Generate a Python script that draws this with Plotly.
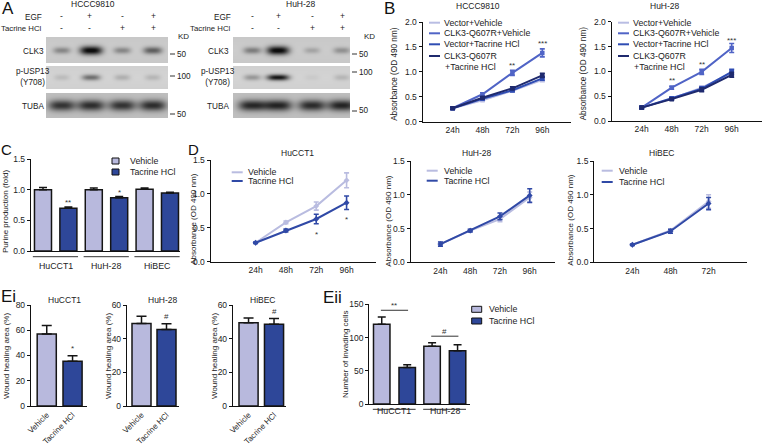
import numpy as np
import plotly.graph_objects as go

W, H = 763, 447
FONT = "Liberation Sans, Arial, sans-serif"
TXT = "#222222"

# ---------------- DATA ----------------
# Panel A: western blot band intensities (lanes: EGF -/+/-/+, Tacrine -/-/+/+)
egf_signs = ["-", "+", "-", "+"]
tacrine_signs = ["-", "-", "+", "+"]
blot_rows = ["CLK3", "p-USP13<br>(Y708)", "TUBA"]
hccc_clk3 = [0.35, 1.0, 0.35, 0.55]
hccc_pusp13 = [0.12, 0.50, 0.18, 0.15]
hccc_tuba = [0.72, 0.75, 0.72, 0.75]
huh_clk3 = [0.40, 1.0, 0.20, 0.30]
huh_pusp13 = [0.30, 0.95, 0.05, 0.15]
huh_tuba = [0.78, 0.80, 0.76, 0.80]

# Panel B
timepoints = ["24h", "48h", "72h", "96h"]
b_labels = ["Vector+Vehicle", "CLK3-Q607R+Vehicle", "Vector+Tacrine HCl", "CLK3-Q607R<br>+Tacrine HCl"]
b_hccc_vec_veh = [0.27, 0.43, 0.62, 0.84]
b_hccc_clk_veh = [0.27, 0.55, 0.98, 1.38]
b_hccc_vec_tac = [0.27, 0.46, 0.63, 0.87]
b_hccc_clk_tac = [0.27, 0.48, 0.67, 0.93]
b_hccc_err_small = [0.02, 0.02, 0.03, 0.04]
b_hccc_err_clk_veh = [0.02, 0.03, 0.05, 0.08]
b_hccc_stars = ["", "", "**", "***"]
b_hccc_star_y = [0, 0, 1.13, 1.56]
b_huh_vec_veh = [0.27, 0.45, 0.67, 0.97]
b_huh_clk_veh = [0.27, 0.67, 0.99, 1.47]
b_huh_vec_tac = [0.27, 0.46, 0.65, 0.99]
b_huh_clk_tac = [0.27, 0.44, 0.63, 0.93]
b_huh_err_small = [0.02, 0.02, 0.04, 0.05]
b_huh_err_clk_veh = [0.02, 0.03, 0.05, 0.09]
b_huh_stars = ["", "**", "**", "***"]
b_huh_star_y = [0, 0.81, 1.14, 1.62]

# Panel C
c_cells = ["HuCCT1", "HuH-28", "HiBEC"]
c_vehicle = [1.0, 1.0, 1.01]
c_vehicle_err = [0.04, 0.03, 0.02]
c_tacrine = [0.70, 0.87, 0.95]
c_tacrine_err = [0.02, 0.02, 0.01]
c_stars = ["**", "*", ""]

# Panel D
d_huc_veh = [0.28, 0.58, 0.82, 1.20]
d_huc_veh_err = [0.01, 0.02, 0.06, 0.11]
d_huc_tac = [0.28, 0.46, 0.63, 0.87]
d_huc_tac_err = [0.01, 0.02, 0.07, 0.10]
d_huc_stars = ["", "", "*", "*"]
d_huc_star_y = [0, 0, 0.40, 0.62]
d_huh_veh = [0.27, 0.47, 0.64, 0.96]
d_huh_veh_err = [0.03, 0.02, 0.04, 0.08]
d_huh_tac = [0.27, 0.47, 0.68, 0.99]
d_huh_tac_err = [0.03, 0.02, 0.05, 0.10]
d_hib_time = ["24h", "48h", "72h"]
d_hib_veh = [0.26, 0.47, 0.90]
d_hib_veh_err = [0.01, 0.02, 0.10]
d_hib_tac = [0.26, 0.46, 0.87]
d_hib_tac_err = [0.01, 0.03, 0.09]

# Panel Ei
ei_groups = ["Vehicle", "Tacrine HCl"]
ei_huc = [57, 35.5]
ei_huc_err = [6.8, 4.3]
ei_huh = [49, 45.5]
ei_huh_err = [4.3, 3.3]
ei_hib = [49.5, 48.5]
ei_hib_err = [2.8, 3.5]
ei_marks = ["*", "#", "#"]

# Panel Eii
eii_cells = ["HuCCT1", "HuH-28"]
eii_veh = [120, 87]
eii_veh_err = [11, 5]
eii_tac = [55, 80]
eii_tac_err = [4, 9]
eii_marks = ["**", "#"]

# ---------------- STYLE ----------------
C_VEH = "#b8b9dd"
C_TAC = "#2e4799"
B_COLORS = ["#b9bde3", "#5064c6", "#2f4db3", "#1f2a6e"]
D_VEH = "#b9bce0"
D_TAC = "#3049a6"

fig = go.Figure()
annotations = []
shapes = []
layout_axes = {}


def fx(px):
    return px / W


def fy(py):
    return 1 - py / H


def txt(x, y, s, size=8.5, xa="center", ya="middle", angle=0, color=TXT, xref="paper", yref="paper"):
    if xref == "paper":
        x = fx(x)
    if yref == "paper":
        y = fy(y)
    annotations.append(dict(x=x, y=y, xref=xref, yref=yref, text=s, showarrow=False,
                            xanchor=xa, yanchor=ya, textangle=angle, borderpad=0,
                            font=dict(size=size, color=color, family=FONT)))


def line_px(x0, y0, x1, y1, color="#222", width=1.0):
    shapes.append(dict(type="line", xref="paper", yref="paper", x0=fx(x0), x1=fx(x1),
                       y0=fy(y0), y1=fy(y1), line=dict(color=color, width=width)))


def rect_px(x0, y0, x1, y1, fill, line="#111", width=1.0):
    shapes.append(dict(type="rect", xref="paper", yref="paper", x0=fx(x0), x1=fx(x1),
                       y0=fy(y1), y1=fy(y0), fillcolor=fill, line=dict(color=line, width=width)))


def add_axes(i, xd, yd, xr, yr, visible=True, ydtick=None, yfmt=None,
             xtickvals=None, xticktext=None, xangle=0, xfont=8.5):
    suf = "" if i == 1 else str(i)
    tf = dict(size=8.5, color=TXT, family=FONT)
    xa = dict(domain=[fx(xd[0]), fx(xd[1])], range=xr, anchor="y" + suf, fixedrange=True,
              automargin=False,
              showgrid=False, zeroline=False, visible=visible, showline=True,
              linecolor="#111", linewidth=1.4, ticks="",
              tickfont=dict(size=xfont, color=TXT, family=FONT))
    if xtickvals is not None:
        xa.update(tickmode="array", tickvals=xtickvals, ticktext=xticktext, tickangle=xangle)
    else:
        xa.update(showticklabels=False)
    ya = dict(domain=[fy(yd[1]), fy(yd[0])], range=yr, anchor="x" + suf, fixedrange=True,
              automargin=False,
              showgrid=False, zeroline=False, visible=visible, showline=True,
              linecolor="#111", linewidth=1.4, ticks="outside", ticklen=3, tickwidth=1.2,
              tickcolor="#111", tickfont=tf)
    if ydtick is not None:
        ya.update(dtick=ydtick, tick0=0)
    if yfmt:
        ya.update(tickformat=yfmt)
    layout_axes["xaxis" + suf] = xa
    layout_axes["yaxis" + suf] = ya
    return "x" + suf, "y" + suf


# ---------------- PANEL A (blots) ----------------
def render_blot(intensities_rows, width, lane_frac):
    h = 81
    img = np.full((h, width), np.nan)
    row_spans = [(0, 26), (29, 52), (56, 81)]
    bgs = [0.80, 0.83, 0.76]
    sxs = [9.0, 9.0, 12.0]
    sys_ = [3.2, 3.0, 5.5]
    xs = np.arange(width) + 0.5
    for (r0, r1), bg, inten, sx, sy in zip(row_spans, bgs, intensities_rows, sxs, sys_):
        ys = np.arange(r0, r1) + 0.5
        cy = (r0 + r1) / 2 + (0.5 if r0 == 0 else 0)
        X, Y = np.meshgrid(xs, ys)
        val = np.full(X.shape, bg) - 0.03 * np.abs(Y - cy) / (r1 - r0)
        for f, a in zip(lane_frac, inten):
            cx = f * width
            wx = sx * (0.8 + 0.45 * a)
            wy = sy * (0.85 + 0.5 * a) if r0 == 0 else sy
            prof = np.exp(-(np.abs(X - cx) / wx) ** 3) * np.exp(-((Y - cy) / wy) ** 2)
            val = val - 0.78 * a * prof
        img[r0:r1, :] = np.clip(val, 0.05, 1)
    return img


blots = [
    (1, 46, 168, [hccc_clk3, hccc_pusp13, hccc_tuba], [0.13, 0.37, 0.625, 0.875]),
    (2, 233, 350, [huh_clk3, huh_pusp13, huh_tuba], [0.165, 0.385, 0.675, 0.93]),
]
for i, x0, x1, rows, lanes in blots:
    xr_, yr_ = add_axes(i, (x0, x1), (37, 118), [x0, x1], [118, 37], visible=False)
    img = render_blot(rows, x1 - x0, lanes)
    fig.add_trace(go.Heatmap(z=img, x=np.arange(x1 - x0) + x0 + 0.5, y=np.arange(81) + 37.5,
                             colorscale=[[0, "#000000"], [1, "#ffffff"]], zmin=0, zmax=1,
                             showscale=False, hoverinfo="skip", xaxis=xr_, yaxis=yr_))

txt(1, 9, "A", size=17, xa="left", color="#111")
txt(93, 4, "HCCC9810", size=8.5)
txt(301, 4, "HuH-28", size=8.5)
for (lx, lane_px, kx, lab_x) in [(43, [62, 89, 122, 153], 177, 33), (232, [252, 278, 312, 342], 363, 218)]:
    txt(lx, 17, "EGF", xa="right", size=8.2)
    txt(lx, 28, "Tacrine HCl", xa="right", size=7.8)
    for p, s1, s2 in zip(lane_px, egf_signs, tacrine_signs):
        txt(p, 16, s1, size=8.5)
        txt(p, 28, s2, size=8.5)
    txt(kx, 36, "KD", size=8.0, xa="left")
    txt(lab_x, 52, blot_rows[0], size=8.2)
    txt(lab_x, 77, blot_rows[1], size=8.2)
    txt(lab_x, 106, blot_rows[2], size=8.2)
for (mx, ys) in [(170, [54, 76, 114]), (352, [54, 72, 111])]:
    for yv, lab in zip(ys, ["50", "100", "50"]):
        line_px(mx, yv, mx + 5, yv, color="#333", width=1)
        txt(mx + 6, yv, lab, xa="left", size=8.2)

# ---------------- PANEL B ----------------
xt_time = list(range(1, len(timepoints) + 1))
txt(383, 9, "B", size=17, xa="left", color="#111")
b_sets = [
    (3, (422.7, 570.7), (22, 121.7), [0, 4.95], "HCCC9810", 478,
     [b_hccc_vec_veh, b_hccc_clk_veh, b_hccc_vec_tac, b_hccc_clk_tac],
     [b_hccc_err_small, b_hccc_err_clk_veh, b_hccc_err_small, b_hccc_err_small],
     b_hccc_stars, b_hccc_star_y, 395, 429),
    (4, (611.7, 761.7), (21.7, 121), [0, 5.0], "HuH-28", 665,
     [b_huh_vec_veh, b_huh_clk_veh, b_huh_vec_tac, b_huh_clk_tac],
     [b_huh_err_small, b_huh_err_clk_veh, b_huh_err_small, b_huh_err_small],
     b_huh_stars, b_huh_star_y, 583, 618),
]
for (i, xd, yd, xr, title, tx, series, errs, stars, star_y, ytx, lgx) in b_sets:
    xa_, ya_ = add_axes(i, xd, yd, xr, [0, 2.0], ydtick=0.5, yfmt=".1f",
                        xtickvals=xt_time, xticktext=timepoints)
    for vals, err, col in zip(series, errs, B_COLORS):
        fig.add_trace(go.Scatter(x=xt_time, y=vals, mode="lines+markers", xaxis=xa_, yaxis=ya_,
                                 line=dict(color=col, width=2),
                                 marker=dict(symbol="square", size=4.5, color=col),
                                 error_y=dict(type="data", array=err, color=col, thickness=1.6, width=2.5),
                                 hoverinfo="skip"))
    for xv, s, yv in zip(xt_time, stars, star_y):
        if s:
            txt(xv, yv, s, size=8, xref=xa_, yref=ya_, color="#333")
    txt(tx, 6, title)
    txt(ytx, (yd[0] + yd[1]) / 2 + 2, "Absorbance (OD 490 nm)", size=8.2, angle=-90)
    leg_y = [22.7, 33.3, 44.3, 61]
    for lab, col, ly in zip(b_labels, B_COLORS, leg_y):
        sy_ = ly if "<br>" not in lab else 56
        line_px(lgx, sy_, lgx + 11, sy_, color=col, width=2)
        txt(lgx + 14, ly, lab, xa="left", size=8.8)

# ---------------- PANEL C ----------------
txt(0, 150, "C", size=15, xa="left", color="#111")
xa_, ya_ = add_axes(5, (31, 180), (159.3, 251), [-0.486, 2.447], [0, 1.5], ydtick=0.5, yfmt=".1f")
c_x = np.arange(len(c_cells))
fig.add_trace(go.Bar(x=c_x - 0.25, y=c_vehicle, width=0.335, xaxis=xa_, yaxis=ya_,
                     marker=dict(color=C_VEH, line=dict(color="#151515", width=1.5)),
                     error_y=dict(type="data", array=c_vehicle_err, arrayminus=[0] * 3, symmetric=False,
                                  color="#151515", thickness=1.5, width=4), hoverinfo="skip"))
fig.add_trace(go.Bar(x=c_x + 0.25, y=c_tacrine, width=0.335, xaxis=xa_, yaxis=ya_,
                     marker=dict(color=C_TAC, line=dict(color="#151515", width=1.5)),
                     error_y=dict(type="data", array=c_tacrine_err, arrayminus=[0] * 3, symmetric=False,
                                  color="#151515", thickness=1.5, width=4), hoverinfo="skip"))
for k, name in enumerate(c_cells):
    shapes.append(dict(type="line", xref=xa_, yref="paper", x0=k - 0.45, x1=k + 0.44,
                       y0=fy(256.7), y1=fy(256.7), line=dict(color="#333", width=1)))
    annotations.append(dict(x=k, y=fy(266), xref=xa_, yref="paper", text=name, showarrow=False,
                            font=dict(size=8.8, color=TXT, family=FONT)))
    if c_stars[k]:
        txt(k + 0.25, c_tacrine[k] + c_tacrine_err[k] + 0.07, c_stars[k], size=8, xref=xa_, yref=ya_, color="#333")
txt(5, 212, "Purine production (fold)", size=8.0, angle=-90)
rect_px(112, 158, 119, 164, C_VEH)
rect_px(112, 169, 119, 175, C_TAC)
txt(129, 161, "Vehicle", xa="left", size=8.8)
txt(129, 172, "Tacrine HCl", xa="left", size=8.8)

# ---------------- PANEL D ----------------
txt(187, 150, "D", size=15, xa="left", color="#111")
d_sets = [
    (6, (210.7, 376), (160, 261.7), [-0.48, 4.97], timepoints, "HuCCT1", 297,
     d_huc_veh, d_huc_veh_err, d_huc_tac, d_huc_tac_err, 194, (231.7, 247, [172.3, 181])),
    (7, (410.7, 555), (161, 262.3), [0, 4.85], timepoints, "HuH-28", 477,
     d_huh_veh, d_huh_veh_err, d_huh_tac, d_huh_tac_err, 389, (426.7, 442.7, [170.7, 180.7])),
    (8, (594.3, 746.7), (161, 262.3), [0, 4.0], d_hib_time, "HiBEC", 662,
     d_hib_veh, d_hib_veh_err, d_hib_tac, d_hib_tac_err, 571, (601.7, 618.3, [170.7, 182])),
]
for (i, xd, yd, xr, tps, title, tx, v, ve, t, te, ytx, leg) in d_sets:
    xs = list(range(1, len(tps) + 1))
    xa_, ya_ = add_axes(i, xd, yd, xr, [0, 1.5], ydtick=0.5, yfmt=".1f",
                        xtickvals=xs, xticktext=tps)
    for vals, err, col in [(v, ve, D_VEH), (t, te, D_TAC)]:
        fig.add_trace(go.Scatter(x=xs, y=vals, mode="lines+markers", xaxis=xa_, yaxis=ya_,
                                 line=dict(color=col, width=2),
                                 marker=dict(symbol="diamond", size=4.5, color=col),
                                 error_y=dict(type="data", array=err, color=col, thickness=1.6, width=2.5),
                                 hoverinfo="skip"))
    txt(tx, 153, title)
    txt(ytx, (yd[0] + yd[1]) / 2 + 9, "Absorbance (OD 490 nm)", size=8.0, angle=-90)
    lx0, ltx, lys = leg
    for lab, col, ly in zip(["Vehicle", "Tacrine HCl"], [D_VEH, D_TAC], lys):
        line_px(lx0, ly, lx0 + 11, ly, color=col, width=2)
        txt(ltx, ly, lab, xa="left", size=8.8)
for xv, s, yv in zip(range(1, 5), d_huc_stars, d_huc_star_y):
    if s:
        txt(xv, yv, s, size=8, xref="x6", yref="y6", color="#333")

# ---------------- PANEL Ei ----------------
txt(0, 296, "Ei", size=17, xa="left", color="#111")
ei_sets = [
    (9, (31, 87), [-0.61, 1.56], [0, 80], ei_huc, ei_huc_err, "HuCCT1", 64, 6, 0.74),
    (10, (127, 179), [-0.58, 1.5], [0, 60], ei_huh, ei_huh_err, "HuH-28", 163, 108, 0.76),
    (11, (233, 286), [-0.61, 1.47], [0, 60], ei_hib, ei_hib_err, "HiBEC", 263, 214, 0.75),
]
for k, (i, xd, xr, yr, vals, errs, title, tx, ytx, bw) in enumerate(ei_sets):
    xs = list(range(len(ei_groups)))
    xa_, ya_ = add_axes(i, xd, (305, 406), xr, yr, ydtick=20,
                        xtickvals=xs, xticktext=ei_groups, xangle=-45, xfont=8.0)
    fig.add_trace(go.Bar(x=xs, y=vals, width=bw, xaxis=xa_, yaxis=ya_,
                         marker=dict(color=[C_VEH, C_TAC], line=dict(color="#151515", width=1.5)),
                         error_y=dict(type="data", array=errs, arrayminus=[0, 0], symmetric=False,
                                      color="#151515", thickness=1.5, width=5), hoverinfo="skip"))
    txt(1, vals[1] + errs[1] + yr[1] * 0.07, ei_marks[k], size=8, xref=xa_, yref=ya_, color="#333")
    txt(tx, 300, title)
    txt(ytx, 356, "Wound healing area (%)", size=8.0, angle=-90)

# ---------------- PANEL Eii ----------------
txt(322, 297, "Eii", size=17, xa="left", color="#111")
xa_, ya_ = add_axes(12, (369.3, 470), (304.3, 404), [-0.5, 1.5], [0, 150], ydtick=50)
e_x = np.arange(len(eii_cells))
fig.add_trace(go.Bar(x=e_x - 0.253, y=eii_veh, width=0.327, xaxis=xa_, yaxis=ya_,
                     marker=dict(color=C_VEH, line=dict(color="#151515", width=1.5)),
                     error_y=dict(type="data", array=eii_veh_err, arrayminus=[0, 0], symmetric=False,
                                  color="#151515", thickness=1.5, width=4), hoverinfo="skip"))
fig.add_trace(go.Bar(x=e_x + 0.253, y=eii_tac, width=0.327, xaxis=xa_, yaxis=ya_,
                     marker=dict(color=C_TAC, line=dict(color="#151515", width=1.5)),
                     error_y=dict(type="data", array=eii_tac_err, arrayminus=[0, 0], symmetric=False,
                                  color="#151515", thickness=1.5, width=4), hoverinfo="skip"))
for k, name in enumerate(eii_cells):
    top = max(eii_veh[k] + eii_veh_err[k], eii_tac[k] + eii_tac_err[k]) + 10
    shapes.append(dict(type="line", xref=xa_, yref=ya_, x0=k - 0.27, x1=k + 0.27,
                       y0=top, y1=top, line=dict(color="#333", width=1)))
    txt(k, top + 7, eii_marks[k], size=8, xref=xa_, yref=ya_, color="#333")
    shapes.append(dict(type="line", xref=xa_, yref="paper", x0=k - 0.43, x1=k + 0.42,
                       y0=fy(409.3), y1=fy(409.3), line=dict(color="#333", width=1)))
    annotations.append(dict(x=k, y=fy(418), xref=xa_, yref="paper", text=name, showarrow=False,
                            font=dict(size=8.8, color=TXT, family=FONT)))
txt(345, 354, "Number of invading cells", size=8.0, angle=-90)
rect_px(471.7, 306.3, 481.7, 312.3, C_VEH)
rect_px(471.7, 318, 481.7, 324, C_TAC)
txt(488, 309.3, "Vehicle", xa="left", size=8.8)
txt(488, 321, "Tacrine HCl", xa="left", size=8.8)

fig.update_layout(
    width=W, height=H, margin=dict(l=0, r=0, t=0, b=0, autoexpand=False),
    paper_bgcolor="white", plot_bgcolor="rgba(0,0,0,0)",
    showlegend=False, barmode="overlay",
    font=dict(family=FONT, size=8.5, color=TXT),
    annotations=annotations, shapes=shapes,
    **layout_axes,
)
fig.write_html("out.html", config={"displayModeBar": False},
               post_script="document.body.style.margin='0';document.body.style.overflow='hidden';")
